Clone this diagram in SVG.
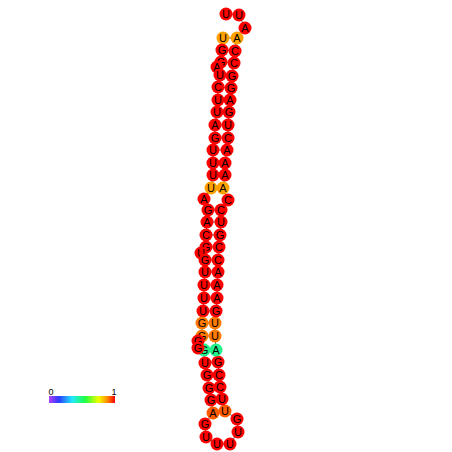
<svg xmlns="http://www.w3.org/2000/svg" width="452" height="452" viewBox="0 0 452 452">
<defs>
<style>
.nd circle{fill:#ff0000;stroke:none}
.nd text{font-family:"Liberation Sans",Arial,sans-serif;font-size:11px;fill:#000;text-anchor:middle}
.nd.o circle{fill:#ffa200}
.nd.o2 circle{fill:#ff7a00}
.nd.o3 circle{fill:#ff5c00}
.nd.g circle{fill:#22f08a}
.bb{fill:none;stroke:#555;stroke-width:1}
.pr{stroke:#555;stroke-width:1}
.lbl{font-family:"Liberation Sans",Arial,sans-serif;font-size:9px;fill:#000;text-anchor:middle}
</style>
<linearGradient id="cb" x1="0" x2="1" y1="0" y2="0">
<stop offset="0" stop-color="#b040ff"/>
<stop offset="0.15" stop-color="#2a3cff"/>
<stop offset="0.35" stop-color="#20e8ff"/>
<stop offset="0.55" stop-color="#20ff40"/>
<stop offset="0.75" stop-color="#f0ff00"/>
<stop offset="0.88" stop-color="#ff9000"/>
<stop offset="1" stop-color="#ff0000"/>
</linearGradient>
</defs>
<rect width="452" height="452" fill="#fff"/>
<g id="connectors">
<polyline class="bb" points="223,38 222,50 221,62 217,67 220,75 218,87 218,100 217,112 215,125 215,138 213,150 213,163 213,175 211,188 204,199 208,210 207,222 206,235 206,247 201,253 205,260 205,272 204,285 204,298 203,311 202,323 202,336 198,341 198,348 203,350 205,363 207,375 209,388 211,400 213,413 205,424 206,437 217,444 230,444 238,432 237,419 225,411 222,399 220,387 219,375 218,362 216,350 215,336 215,323 216,311 217,298 217,285 218,272 218,260 219,247 220,235 221,222 221,210 228,200 223,188 225,175 225,163 227,150 228,138 228,125 229,112 230,100 231,88 232,76 234,63 235,51 237,38 245,28 239,15 226,14"/>
<line class="pr" x1="223" y1="38" x2="237" y2="38"/>
<line class="pr" x1="222" y1="50" x2="235" y2="51"/>
<line class="pr" x1="221" y1="62" x2="234" y2="63"/>
<line class="pr" x1="220" y1="75" x2="232" y2="76"/>
<line class="pr" x1="218" y1="87" x2="231" y2="88"/>
<line class="pr" x1="218" y1="100" x2="230" y2="100"/>
<line class="pr" x1="217" y1="112" x2="229" y2="112"/>
<line class="pr" x1="215" y1="125" x2="228" y2="125"/>
<line class="pr" x1="215" y1="138" x2="228" y2="138"/>
<line class="pr" x1="213" y1="150" x2="227" y2="150"/>
<line class="pr" x1="213" y1="163" x2="225" y2="163"/>
<line class="pr" x1="213" y1="175" x2="225" y2="175"/>
<line class="pr" x1="211" y1="188" x2="223" y2="188"/>
<line class="pr" x1="208" y1="210" x2="221" y2="210"/>
<line class="pr" x1="207" y1="222" x2="221" y2="222"/>
<line class="pr" x1="206" y1="235" x2="220" y2="235"/>
<line class="pr" x1="206" y1="247" x2="219" y2="247"/>
<line class="pr" x1="205" y1="260" x2="218" y2="260"/>
<line class="pr" x1="205" y1="272" x2="218" y2="272"/>
<line class="pr" x1="204" y1="285" x2="217" y2="285"/>
<line class="pr" x1="204" y1="298" x2="217" y2="298"/>
<line class="pr" x1="203" y1="311" x2="216" y2="311"/>
<line class="pr" x1="202" y1="323" x2="215" y2="323"/>
<line class="pr" x1="202" y1="336" x2="215" y2="336"/>
<line class="pr" x1="203" y1="350" x2="216" y2="350"/>
<line class="pr" x1="205" y1="363" x2="218" y2="362"/>
<line class="pr" x1="207" y1="375" x2="219" y2="375"/>
<line class="pr" x1="209" y1="388" x2="220" y2="387"/>
<line class="pr" x1="211" y1="400" x2="222" y2="399"/>
<line class="pr" x1="213" y1="413" x2="225" y2="411"/>
</g>
<g id="n1" class="nd"><circle cx="226" cy="14" r="6.5"/><text x="226" y="18">U</text></g>
<g id="n2" class="nd"><circle cx="239" cy="15" r="6.5"/><text x="239" y="19">U</text></g>
<g id="n3" class="nd"><circle cx="245" cy="28" r="6.5"/><text x="245" y="32">A</text></g>
<g id="L1" class="nd o"><circle cx="223" cy="38" r="6.5"/><text x="223" y="42">U</text></g>
<g id="L2" class="nd"><circle cx="222" cy="50" r="6.5"/><text x="222" y="54">G</text></g>
<g id="L3" class="nd"><circle cx="221" cy="62" r="6.5"/><text x="221" y="66">G</text></g>
<g id="Lb" class="nd"><circle cx="217" cy="67" r="6.5"/><text x="217" y="71">A</text></g>
<g id="L4" class="nd"><circle cx="220" cy="75" r="6.5"/><text x="220" y="79">U</text></g>
<g id="L5" class="nd"><circle cx="218" cy="87" r="6.5"/><text x="218" y="91">C</text></g>
<g id="L6" class="nd"><circle cx="218" cy="100" r="6.5"/><text x="218" y="104">U</text></g>
<g id="L7" class="nd"><circle cx="217" cy="112" r="6.5"/><text x="217" y="116">U</text></g>
<g id="L8" class="nd"><circle cx="215" cy="125" r="6.5"/><text x="215" y="129">A</text></g>
<g id="L9" class="nd"><circle cx="215" cy="138" r="6.5"/><text x="215" y="142">G</text></g>
<g id="L10" class="nd"><circle cx="213" cy="150" r="6.5"/><text x="213" y="154">U</text></g>
<g id="L11" class="nd"><circle cx="213" cy="163" r="6.5"/><text x="213" y="167">U</text></g>
<g id="L12" class="nd"><circle cx="213" cy="175" r="6.5"/><text x="213" y="179">U</text></g>
<g id="L13" class="nd o"><circle cx="211" cy="188" r="6.5"/><text x="211" y="192">U</text></g>
<g id="R1" class="nd o"><circle cx="237" cy="38" r="6.5"/><text x="237" y="42">A</text></g>
<g id="R2" class="nd"><circle cx="235" cy="51" r="6.5"/><text x="235" y="55">C</text></g>
<g id="R3" class="nd"><circle cx="234" cy="63" r="6.5"/><text x="234" y="67">C</text></g>
<g id="R4" class="nd"><circle cx="232" cy="76" r="6.5"/><text x="232" y="80">G</text></g>
<g id="R5" class="nd"><circle cx="231" cy="88" r="6.5"/><text x="231" y="92">G</text></g>
<g id="R6" class="nd"><circle cx="230" cy="100" r="6.5"/><text x="230" y="104">A</text></g>
<g id="R7" class="nd"><circle cx="229" cy="112" r="6.5"/><text x="229" y="116">G</text></g>
<g id="R8" class="nd"><circle cx="228" cy="125" r="6.5"/><text x="228" y="129">U</text></g>
<g id="R9" class="nd"><circle cx="228" cy="138" r="6.5"/><text x="228" y="142">C</text></g>
<g id="R10" class="nd"><circle cx="227" cy="150" r="6.5"/><text x="227" y="154">A</text></g>
<g id="R11" class="nd"><circle cx="225" cy="163" r="6.5"/><text x="225" y="167">A</text></g>
<g id="R12" class="nd"><circle cx="225" cy="175" r="6.5"/><text x="225" y="179">A</text></g>
<g id="R13" class="nd o"><circle cx="223" cy="188" r="6.5"/><text x="223" y="192">A</text></g>
<g id="E1" class="nd"><circle cx="204" cy="199" r="6.5"/><text x="204" y="203">A</text></g>
<g id="E2" class="nd"><circle cx="228" cy="200" r="6.5"/><text x="228" y="204">C</text></g>
<g id="P1" class="nd"><circle cx="208" cy="210" r="6.5"/><text x="208" y="214">G</text></g>
<g id="P2" class="nd"><circle cx="207" cy="222" r="6.5"/><text x="207" y="226">A</text></g>
<g id="P3" class="nd"><circle cx="206" cy="235" r="6.5"/><text x="206" y="239">C</text></g>
<g id="P4" class="nd"><circle cx="206" cy="247" r="6.5"/><text x="206" y="251">G</text></g>
<g id="Pb" class="nd"><circle cx="201" cy="253" r="6.5"/><text x="201" y="257">U</text></g>
<g id="P5" class="nd"><circle cx="205" cy="260" r="6.5"/><text x="205" y="264">G</text></g>
<g id="P6" class="nd"><circle cx="205" cy="272" r="6.5"/><text x="205" y="276">U</text></g>
<g id="P7" class="nd"><circle cx="204" cy="285" r="6.5"/><text x="204" y="289">U</text></g>
<g id="P8" class="nd"><circle cx="204" cy="298" r="6.5"/><text x="204" y="302">U</text></g>
<g id="P9" class="nd"><circle cx="203" cy="311" r="6.5"/><text x="203" y="315">U</text></g>
<g id="P10" class="nd o2"><circle cx="202" cy="323" r="6.5"/><text x="202" y="327">G</text></g>
<g id="P11" class="nd o2"><circle cx="202" cy="336" r="6.5"/><text x="202" y="340">G</text></g>
<g id="P12" class="nd g"><circle cx="204" cy="350" r="6.5"/><text x="204" y="354">G</text></g>
<g id="Pb2" class="nd"><circle cx="198" cy="341" r="6.5"/><text x="198" y="345">G</text></g>
<g id="Pb3" class="nd"><circle cx="198" cy="348" r="6.5"/><text x="198" y="352">G</text></g>
<g id="P13" class="nd"><circle cx="205" cy="363" r="6.5"/><text x="205" y="367">U</text></g>
<g id="P14" class="nd"><circle cx="207" cy="375" r="6.5"/><text x="207" y="379">G</text></g>
<g id="P15" class="nd"><circle cx="209" cy="388" r="6.5"/><text x="209" y="392">G</text></g>
<g id="P16" class="nd"><circle cx="211" cy="400" r="6.5"/><text x="211" y="404">G</text></g>
<g id="P17" class="nd o3"><circle cx="213" cy="413" r="6.5"/><text x="213" y="417">A</text></g>
<g id="B1" class="nd"><circle cx="205" cy="424" r="6.5"/><text x="205" y="428">G</text></g>
<g id="B2" class="nd"><circle cx="206" cy="437" r="6.5"/><text x="206" y="441">U</text></g>
<g id="B3" class="nd"><circle cx="217" cy="444" r="6.5"/><text x="217" y="448">U</text></g>
<g id="B4" class="nd"><circle cx="230" cy="444" r="6.5"/><text x="230" y="448">U</text></g>
<g id="B5" class="nd"><circle cx="238" cy="432" r="6.5"/><text x="238" y="436">U</text></g>
<g id="B6" class="nd"><circle cx="237" cy="419" r="6.5"/><text x="237" y="423">G</text></g>
<g id="Q17" class="nd o3"><circle cx="225" cy="411" r="6.5"/><text x="225" y="415">U</text></g>
<g id="Q16" class="nd"><circle cx="222" cy="399" r="6.5"/><text x="222" y="403">U</text></g>
<g id="Q15" class="nd"><circle cx="220" cy="387" r="6.5"/><text x="220" y="391">C</text></g>
<g id="Q14" class="nd"><circle cx="219" cy="375" r="6.5"/><text x="219" y="379">C</text></g>
<g id="Q13" class="nd"><circle cx="218" cy="362" r="6.5"/><text x="218" y="366">G</text></g>
<g id="Q12" class="nd g"><circle cx="216" cy="350" r="6.5"/><text x="216" y="354">A</text></g>
<g id="Q11" class="nd o2"><circle cx="215" cy="336" r="6.5"/><text x="215" y="340">U</text></g>
<g id="Q10" class="nd o2"><circle cx="215" cy="323" r="6.5"/><text x="215" y="327">U</text></g>
<g id="Q9" class="nd"><circle cx="216" cy="311" r="6.5"/><text x="216" y="315">G</text></g>
<g id="Q8" class="nd"><circle cx="217" cy="298" r="6.5"/><text x="217" y="302">A</text></g>
<g id="Q7" class="nd"><circle cx="217" cy="285" r="6.5"/><text x="217" y="289">A</text></g>
<g id="Q6" class="nd"><circle cx="218" cy="272" r="6.5"/><text x="218" y="276">A</text></g>
<g id="Q5" class="nd"><circle cx="218" cy="260" r="6.5"/><text x="218" y="264">C</text></g>
<g id="Q4" class="nd"><circle cx="219" cy="247" r="6.5"/><text x="219" y="251">C</text></g>
<g id="Q3" class="nd"><circle cx="220" cy="235" r="6.5"/><text x="220" y="239">G</text></g>
<g id="Q2" class="nd"><circle cx="221" cy="222" r="6.5"/><text x="221" y="226">U</text></g>
<g id="Q1" class="nd"><circle cx="221" cy="210" r="6.5"/><text x="221" y="214">C</text></g>
<g id="colorbar">
<rect x="49" y="396" width="66" height="7" fill="url(#cb)"/>
<text class="lbl" x="51" y="395">0</text>
<text class="lbl" x="114" y="395">1</text>
</g>
</svg>
